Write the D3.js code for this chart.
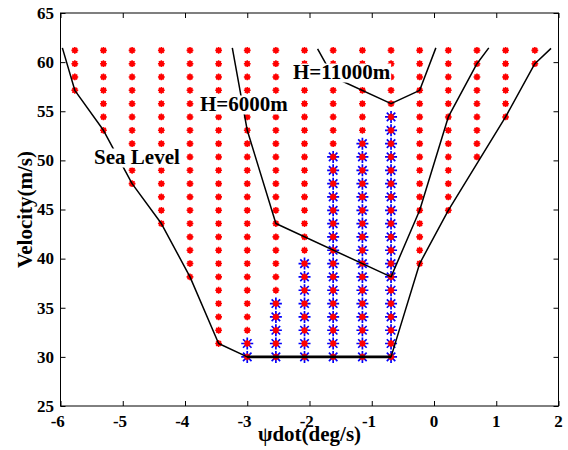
<!DOCTYPE html>
<html>
<head>
<meta charset="utf-8">
<script src="https://cdn.jsdelivr.net/npm/d3@7"></script>
<style>
  html, body { margin: 0; padding: 0; background: #fff; }
  svg { display: block; }
  text { font-family: "Liberation Serif", "Times New Roman", serif; font-weight: bold; fill: #000; }
</style>
</head>
<body>
<svg id="chart" width="568" height="450"></svg>
<script>
// Turn-rate columns (deg/s) and speed rows (m/s) of the trim grid
const psiDot = [-5.77, -5.31, -4.85, -4.38, -3.92, -3.46, -3.00, -2.54, -2.08,
                -1.62, -1.15, -0.69, -0.23, 0.23, 0.69, 1.15, 1.62];
const speeds = [30.00, 31.36, 32.71, 34.07, 35.43, 36.78, 38.14, 39.50, 40.85,
                42.21, 43.57, 44.92, 46.28, 47.63, 48.99, 50.35, 51.70, 53.06,
                54.42, 55.77, 57.13, 58.49, 59.84, 61.20];

// Lowest speed of the sea-level envelope in each column (red markers)
const seaLevelMin = [57.13, 53.06, 47.63, 43.57, 38.14, 31.36, 30.00, 30.00, 30.00,
                     30.00, 30.00, 30.00, 39.50, 44.92, 50.35, 54.42, 59.84];
// Highest speed of the second point set per column (blue stars); null = none
const starMax = [null, null, null, null, null, null, 31.36, 35.43, 39.50,
                 50.35, 51.70, 54.42, null, null, null, null, null];

// Boundary curves [psiDot, V]
const seaLevelCurve = [[-5.97, 61.45], [-5.77, 57.13], [-5.31, 53.06], [-4.85, 47.63],
                       [-4.38, 43.57], [-3.92, 38.14], [-3.46, 31.36], [-3.00, 30.00],
                       [-0.69, 30.00], [-0.23, 39.50], [0.23, 44.92], [1.15, 54.42],
                       [1.62, 59.84], [1.88, 61.40]];
const h6000Curve = [[-3.24, 61.45], [-3.00, 53.06], [-2.54, 43.57], [-0.69, 38.14],
                    [-0.23, 44.92], [0.23, 54.42], [0.69, 59.84], [0.88, 61.45]];
const h11000Curve = [[-1.87, 61.35], [-1.62, 58.49], [-0.69, 55.77], [-0.23, 57.13],
                     [0.03, 61.45]];
const stallLine = [[-3.00, 30.00], [-0.69, 30.00]];

// Curve labels: text and anchor (left end of baseline) in data units
const curveLabels = [
  { text: "Sea Level", x: -5.46, y: 49.63 },
  { text: "H=6000m",  x: -3.76, y: 55.03 },
  { text: "H=11000m", x: -2.265, y: 58.28 }
];

const xTicks = [-6, -5, -4, -3, -2, -1, 0, 1, 2];
const yTicks = [25, 30, 35, 40, 45, 50, 55, 60, 65];
const xLabel = "ψdot(deg/s)";
const yLabel = "Velocity(m/s)";

const svg = d3.select("#chart");
const box = { left: 60.5, right: 558.5, top: 13, bottom: 406 };

const x = d3.scaleLinear().domain([-6, 2]).range([box.left, box.right]);
const y = d3.scaleLinear().domain([25, 65]).range([box.bottom, box.top]);

// Point sets
const redPts = [], bluePts = [];
psiDot.forEach((p, i) => {
  speeds.forEach(v => {
    if (v >= seaLevelMin[i] - 0.01) redPts.push([p, v]);
    if (starMax[i] !== null && v <= starMax[i] + 0.01) bluePts.push([p, v]);
  });
});

// Asterisk marker path: horizontal, vertical and two diagonals
function asterisk(r) {
  const d = r * Math.SQRT1_2;
  return `M${-r},0L${r},0M0,${-r}L0,${r}M${-d},${-d}L${d},${d}M${-d},${d}L${d},${-d}`;
}

const plot = svg.append("g");

plot.append("g").selectAll("path").data(bluePts).join("path")
  .attr("transform", d => `translate(${x(d[0])},${y(d[1])})`)
  .attr("d", asterisk(6))
  .attr("stroke", "#0000ff").attr("stroke-width", 1.7).attr("fill", "none");

const red = plot.append("g").selectAll("g").data(redPts).join("g")
  .attr("transform", d => `translate(${x(d[0])},${y(d[1])})`);
red.append("circle").attr("r", 2.6).attr("fill", "#ff0000");
red.append("path").attr("d", asterisk(3.4))
  .attr("stroke", "#ff0000").attr("stroke-width", 1.6).attr("fill", "none");

const line = d3.line().x(d => x(d[0])).y(d => y(d[1]));
[seaLevelCurve, h6000Curve, h11000Curve].forEach(c => {
  plot.append("path").attr("d", line(c))
    .attr("fill", "none").attr("stroke", "#000").attr("stroke-width", 1.5)
    .attr("stroke-linejoin", "round");
});
plot.append("path").attr("d", line(stallLine))
  .attr("fill", "none").attr("stroke", "#000").attr("stroke-width", 2.6);

// Curve labels on white boxes
curveLabels.forEach(l => {
  const g = svg.append("g");
  const t = g.append("text").attr("x", x(l.x)).attr("y", y(l.y))
    .attr("font-size", 21).text(l.text);
  const w = t.node().getComputedTextLength();
  g.insert("rect", "text")
    .attr("x", x(l.x) - 1).attr("y", y(l.y) - 15.5)
    .attr("width", w + 2).attr("height", 19).attr("fill", "#fff");
});

// Axes box with inward ticks on all four sides
const axes = svg.append("g");
axes.append("g").attr("transform", `translate(0,${box.bottom})`)
  .call(d3.axisBottom(x).tickValues(xTicks).tickSize(-5).tickSizeOuter(0).tickFormat(""));
axes.append("g").attr("transform", `translate(0,${box.top})`)
  .call(d3.axisTop(x).tickValues(xTicks).tickSize(-5).tickSizeOuter(0).tickFormat(""));
axes.append("g").attr("transform", `translate(${box.left},0)`)
  .call(d3.axisLeft(y).tickValues(yTicks).tickSize(-5).tickSizeOuter(0).tickFormat(""));
axes.append("g").attr("transform", `translate(${box.right},0)`)
  .call(d3.axisRight(y).tickValues(yTicks).tickSize(-5).tickSizeOuter(0).tickFormat(""));
axes.selectAll(".domain").remove();
axes.selectAll(".tick line").attr("stroke", "#000").attr("stroke-width", 1);
axes.append("rect").attr("x", box.left).attr("y", box.top)
  .attr("width", box.right - box.left).attr("height", box.bottom - box.top)
  .attr("fill", "none").attr("stroke", "#000").attr("stroke-width", 1);

// Tick labels (digits centred on the tick, minus sign hanging left)
svg.append("g").selectAll("text").data(xTicks).join("text")
  .attr("x", d => x(d) + 4.3).attr("y", 426.5)
  .attr("text-anchor", "end").attr("font-size", 17)
  .text(d => String(d));
svg.append("g").selectAll("text").data(yTicks).join("text")
  .attr("x", 54).attr("y", d => y(d) + 5.8)
  .attr("text-anchor", "end").attr("font-size", 17)
  .text(d => String(d));

// Axis titles
svg.append("text").attr("x", (box.left + box.right) / 2).attr("y", 441)
  .attr("text-anchor", "middle").attr("font-size", 21).text(xLabel);
svg.append("text")
  .attr("transform", `translate(31.5,${(box.top + box.bottom) / 2}) rotate(-90)`)
  .attr("text-anchor", "middle").attr("font-size", 21).text(yLabel);
</script>
</body>
</html>
